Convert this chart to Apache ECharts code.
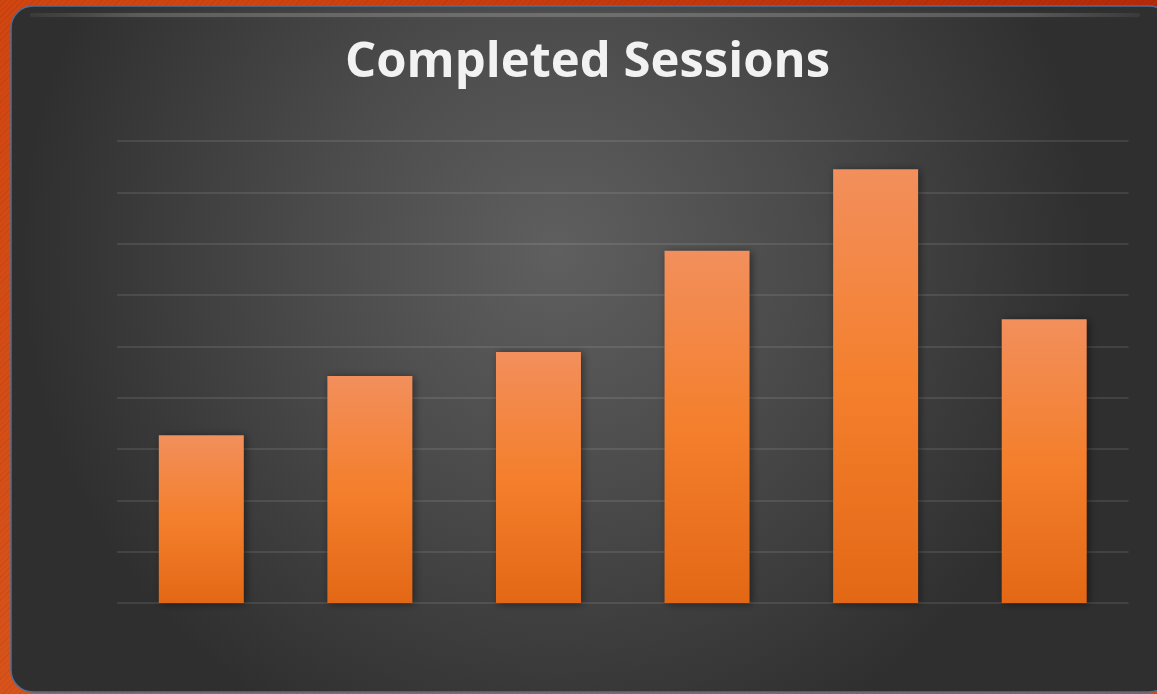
<!DOCTYPE html>
<html>
<head>
<meta charset="utf-8">
<script src="https://cdn.jsdelivr.net/npm/echarts@6/dist/echarts.min.js"></script>
<style>
html,body{margin:0;padding:0;width:1157px;height:694px;overflow:hidden;}
body{background:
 repeating-linear-gradient(135deg, rgba(0,0,0,0.06) 0px, rgba(0,0,0,0.06) 1px, rgba(255,255,255,0) 1px, rgba(255,255,255,0) 4px),
 linear-gradient(200deg, #b52a08 0%, #d0440f 30%, #d8531a 100%);}
#chart{width:1157px;height:694px;}
</style>
</head>
<body>
<div id="chart"></div>
<script>
const titleText = 'Completed Sessions';
const categories = ['1', '2', '3', '4', '5', '6'];
const sessions = [32.7, 44.2, 48.9, 68.6, 84.5, 55.3];
const yMin = 0, yMax = 90, yInterval = 10;

const chart = echarts.init(document.getElementById('chart'), null, {renderer: 'canvas'});
chart.setOption({
  backgroundColor: 'transparent',
  animation: false,
  graphic: [
    {
      type: 'rect', z: -10, silent: true,
      shape: {x: 11, y: 6, width: 1160, height: 686, r: 22},
      style: {
        fill: {
          type: 'radial', x: 0.47, y: 0.36, r: 0.78,
          colorStops: [
            {offset: 0, color: '#5f5f5f'},
            {offset: 0.45, color: '#4b4b4b'},
            {offset: 1, color: '#2f2f2f'}
          ]
        },
        stroke: '#4d6f96', lineWidth: 1.5
      }
    },
    {
      type: 'rect', z: -9, silent: true,
      shape: {x: 30, y: 13, width: 1110, height: 4, r: 2},
      style: {
        fill: {
          type: 'linear', x: 0, y: 0, x2: 1, y2: 0,
          colorStops: [
            {offset: 0, color: 'rgba(255,255,255,0.05)'},
            {offset: 0.1, color: 'rgba(255,255,255,0.18)'},
            {offset: 0.9, color: 'rgba(255,255,255,0.18)'},
            {offset: 1, color: 'rgba(255,255,255,0.05)'}
          ]
        },
        shadowBlur: 4, shadowColor: 'rgba(255,255,255,0.2)'
      }
    }
  ],
  title: {
    text: titleText,
    left: 340,
    top: 34,
    textStyle: {
      color: '#f2f2f2',
      fontFamily: 'Open Sans',
      fontWeight: 'bold',
      fontSize: 49
    }
  },
  grid: {left: 117, right: 28.5, top: 141, bottom: 91},
  xAxis: {
    type: 'category',
    data: categories,
    axisLine: {show: false},
    axisTick: {show: false},
    axisLabel: {show: false}
  },
  yAxis: {
    type: 'value',
    min: yMin, max: yMax, interval: yInterval,
    axisLine: {show: false},
    axisTick: {show: false},
    axisLabel: {show: false},
    splitLine: {lineStyle: {color: 'rgba(255,255,255,0.13)', width: 1.5}}
  },
  series: [{
    type: 'bar',
    data: sessions,
    barWidth: 85,
    itemStyle: {
      color: {
        type: 'linear', x: 0, y: 0, x2: 0, y2: 1,
        colorStops: [
          {offset: 0, color: '#f28f5c'},
          {offset: 0.5, color: '#f47f2c'},
          {offset: 1, color: '#e36816'}
        ]
      },
      shadowBlur: 8,
      shadowOffsetX: 2,
      shadowOffsetY: 1,
      shadowColor: 'rgba(0,0,0,0.45)'
    }
  }]
});
</script>
</body>
</html>
